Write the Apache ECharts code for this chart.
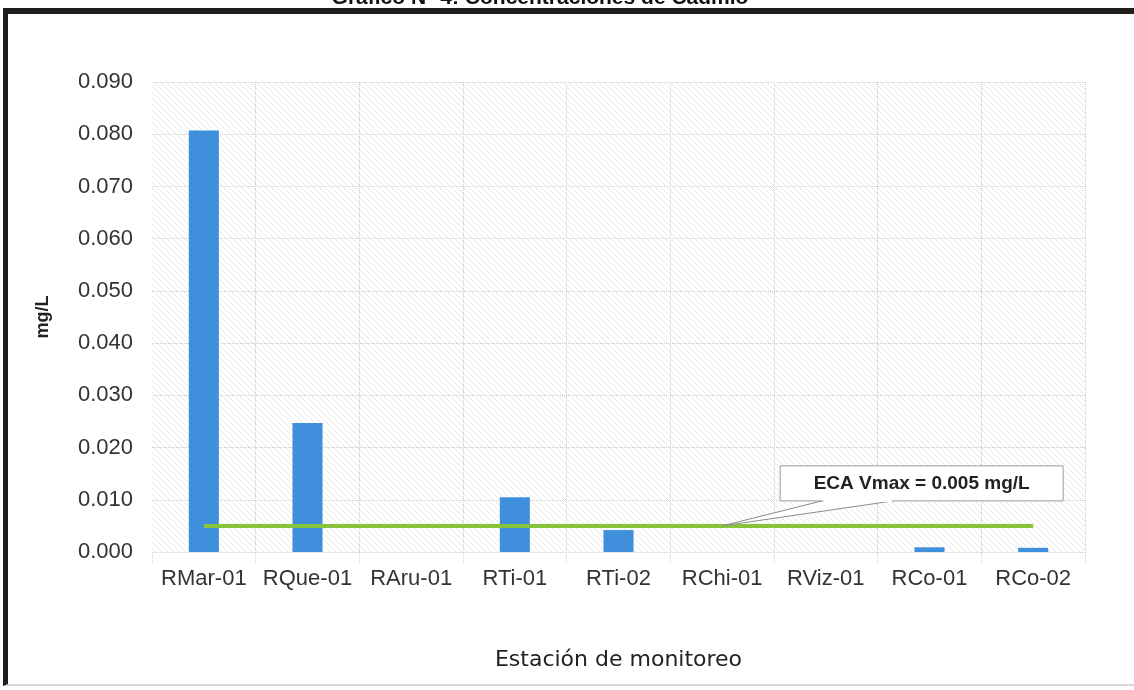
<!DOCTYPE html>
<html>
<head>
<meta charset="utf-8">
<script src="https://cdn.jsdelivr.net/npm/echarts@6/dist/echarts.min.js"></script>
<style>
  html, body { margin: 0; padding: 0; background: #fff; }
  #frame {
    position: absolute; left: 3px; top: 8px; width: 1140px; height: 678px;
    border-top: 6px solid #1e1f1c; border-left: 5px solid #1e1f1c;
    border-bottom: 2px solid #d8d8d8; box-sizing: border-box;
  }
  #chart { position: absolute; left: 0; top: 0; width: 1134px; height: 690px; }
</style>
</head>
<body>
<div id="frame"></div>
<div id="chart"></div>
<script>
// estaciones y concentraciones de cadmio (mg/L)
const stations = ["RMar-01", "RQue-01", "RAru-01", "RTi-01", "RTi-02", "RChi-01", "RViz-01", "RCo-01", "RCo-02"];
const cadmio = [0.0807, 0.0247, 0, 0.0105, 0.0042, 0, 0, 0.0009, 0.0008];
const ecaLimit = [0.005, 0.005, 0.005, 0.005, 0.005, 0.005, 0.005, 0.005, 0.005];
const yTicks = { min: 0, max: 0.09, interval: 0.01 };
const ecaText = "ECA Vmax = 0.005 mg/L";
const calloutIndex = 5; // RChi-01

// trama diagonal del fondo del área de trazado
const hatch = document.createElement("canvas");
hatch.width = 6;
hatch.height = 6;
const hctx = hatch.getContext("2d");
hctx.strokeStyle = "rgba(0,0,0,0.09)";
hctx.lineWidth = 1;
hctx.beginPath();
hctx.moveTo(-1, -1);
hctx.lineTo(7, 7);
hctx.stroke();

const chart = echarts.init(document.getElementById("chart"));
const font = "Liberation Sans, Arial, sans-serif";

const option = {
  animation: false,
  textStyle: { fontFamily: font },
  title: {
    text: "Gráfico N° 4: Concentraciones de Cadmio",
    left: 535,
    textAlign: "center",
    top: -17,
    textStyle: { fontSize: 21, fontWeight: "bold", color: "#111", fontFamily: font },
  },
  grid: {
    left: 152,
    right: 49,
    top: 82,
    bottom: 138,
    show: true,
    borderWidth: 0,
    backgroundColor: { image: hatch, repeat: "repeat" },
  },
  xAxis: {
    type: "category",
    data: stations,
    name: "Estación de monitoreo",
    nameLocation: "middle",
    nameGap: 97,
    nameTextStyle: { fontSize: 22, color: "#222", fontFamily: "DejaVu Sans, sans-serif" },
    axisLine: { show: false },
    axisTick: { show: true, length: 12, lineStyle: { color: "#d4d4d4", type: "dotted" } },
    axisLabel: { fontSize: 22, color: "#333", margin: 16, interval: 0 },
    splitLine: {
      show: true,
      interval: (i) => i !== 0,
      lineStyle: { color: "#cdcdcd", type: "dotted", width: 1 },
    },
  },
  yAxis: {
    type: "value",
    min: yTicks.min,
    max: yTicks.max,
    interval: yTicks.interval,
    name: "mg/L",
    nameLocation: "middle",
    nameGap: 100,
    nameRotate: 90,
    nameTextStyle: { fontSize: 18, fontWeight: "bold", color: "#222", fontFamily: font },
    axisLine: { show: false },
    axisTick: { show: false },
    axisLabel: {
      fontSize: 22,
      color: "#333",
      margin: 19,
      formatter: (v) => v.toFixed(3),
    },
    splitLine: { show: true, lineStyle: { color: "#cdcdcd", type: "dotted", width: 1 } },
  },
  series: [
    {
      name: "Cadmio",
      type: "bar",
      data: cadmio,
      barWidth: "29%",
      itemStyle: { color: "#3f8fdc" },
    },
    {
      name: "ECA",
      type: "line",
      data: ecaLimit,
      symbol: "none",
      lineStyle: { color: "#86c43c", width: 4 },
      z: 3,
    },
  ],
};

chart.setOption(option);

// llamada "ECA Vmax" anclada al punto de la línea ECA en RChi-01
const tip = chart.convertToPixel({ seriesIndex: 1 }, [calloutIndex, ecaLimit[calloutIndex]]);
const boxX = tip[0] + 58;
const boxY = tip[1] - 60;
const boxW = 283;
const boxH = 35;
chart.setOption({
  graphic: [
    {
      type: "polygon",
      z: 100,
      shape: {
        points: [
          [tip[0], tip[1]],
          [tip[0] + 100, boxY + boxH],
          [tip[0] + 171, boxY + boxH],
        ],
      },
      style: { fill: "#fff", stroke: "#8a8a8a", lineWidth: 1 },
    },
    {
      type: "rect",
      z: 101,
      shape: { x: boxX, y: boxY, width: boxW, height: boxH },
      style: { fill: "#fff", stroke: "#9a9a9a", lineWidth: 1 },
    },
    {
      type: "rect",
      z: 102,
      shape: { x: tip[0] + 101, y: boxY + boxH - 1, width: 69, height: 2 },
      style: { fill: "#fff" },
    },
    {
      type: "text",
      z: 103,
      x: boxX + boxW / 2,
      y: boxY + boxH / 2,
      style: {
        text: ecaText,
        fill: "#222",
        font: "bold 19px " + font,
        textAlign: "center",
        textVerticalAlign: "middle",
      },
    },
  ],
});
</script>
</body>
</html>
